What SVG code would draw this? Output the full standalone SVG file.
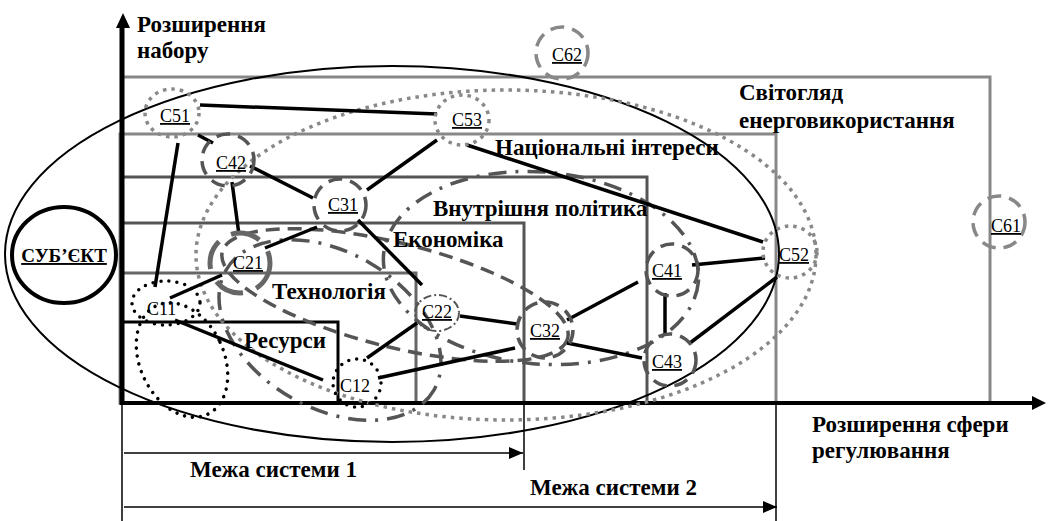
<svg xmlns="http://www.w3.org/2000/svg" width="1048" height="521" viewBox="0 0 1048 521">
<style>
.bold{font-family:"Liberation Serif","Times New Roman",serif;font-weight:bold;font-size:23px;fill:#000}
.lbl{font-family:"Liberation Serif","Times New Roman",serif;font-size:18px;fill:#000;text-decoration:underline}
.nu{text-decoration:none}
.conn{stroke:#000;stroke-width:3.5;fill:none}
.dotg{fill:none;stroke:#888;stroke-width:3.5;stroke-dasharray:3.5 5}
.dashg{fill:none;stroke:#888;stroke-width:3.5;stroke-dasharray:14 8}
.dashd{fill:none;stroke:#555;stroke-width:3.5;stroke-dasharray:14 8}
.dashdot{fill:none;stroke:#555;stroke-width:3.5;stroke-dasharray:18 9 3 9}
.dotb{fill:none;stroke:#000;stroke-width:3.5;stroke-dasharray:0 8;stroke-linecap:round}
</style>
<defs>
<marker id="ah" markerWidth="14" markerHeight="12" refX="14" refY="6" orient="auto" markerUnits="userSpaceOnUse">
<path d="M0,0 L14,6 L0,12 z" fill="#000"/>
</marker>
</defs>
<rect width="1048" height="521" fill="#fff"/>
<g id="areas">
<rect x="122" y="77" width="868" height="326" fill="none" stroke="#888" stroke-width="3"/>
<rect x="120" y="134" width="656" height="269" fill="none" stroke="#888" stroke-width="3"/>
<rect x="122" y="177" width="525" height="226" fill="none" stroke="#555" stroke-width="3"/>
<rect x="122" y="223" width="402" height="180" fill="none" stroke="#555" stroke-width="3"/>
<rect x="122" y="273" width="294" height="130" fill="none" stroke="#666" stroke-width="3"/>
<rect x="122" y="322" width="216" height="81" fill="none" stroke="#000" stroke-width="3"/>
</g>
<g id="axes">
<line x1="122" y1="405" x2="122" y2="26" stroke="#000" stroke-width="5"/>
<path d="M116,28 L123,13 L130,28 z" fill="#000"/>
<line x1="120" y1="403" x2="1034" y2="403" stroke="#000" stroke-width="4"/>
<path d="M1032,396 L1046,403 L1032,410 z" fill="#000"/>
</g>
<g id="boundaries">
<line x1="122" y1="403" x2="122" y2="521" stroke="#000" stroke-width="1.5"/>
<line x1="524" y1="403" x2="524" y2="470" stroke="#000" stroke-width="1.5"/>
<line x1="776" y1="403" x2="776" y2="521" stroke="#000" stroke-width="1.5"/>
<line x1="124" y1="453" x2="523" y2="453" stroke="#000" stroke-width="1.5" marker-end="url(#ah)"/>
<line x1="124" y1="507" x2="777" y2="507" stroke="#000" stroke-width="1.5" marker-end="url(#ah)"/>
</g>
<g id="subject">
<ellipse cx="64" cy="255" rx="52" ry="48" fill="none" stroke="#000" stroke-width="4"/>
<text x="64" y="262" text-anchor="middle" style="font-family:'Liberation Serif',serif;font-weight:bold;font-size:19px;text-decoration:underline">СУБ’ЄКТ</text>
</g>
<g id="system-ellipse">
<ellipse cx="392" cy="254" rx="387" ry="188" fill="none" stroke="#000" stroke-width="2"/>
</g>
<g id="group-ellipses">
<ellipse class="dotg" cx="506" cy="255" rx="310" ry="165"/>
<ellipse class="dashd" cx="395" cy="295" rx="178" ry="52" transform="rotate(14 395 295)"/>
<ellipse class="dashdot" cx="541" cy="268" rx="158" ry="96" transform="rotate(5 541 268)"/>
<ellipse class="dashdot" cx="330" cy="330" rx="120" ry="78" transform="rotate(30 330 330)"/>
<ellipse class="dotb" cx="166" cy="303" rx="34" ry="22"/>
<ellipse class="dotb" cx="182" cy="360" rx="42" ry="60" transform="rotate(-25 182 360)"/>
</g>
<g id="connectors">
<line class="conn" x1="200" y1="105" x2="437" y2="114"/>
<line class="conn" x1="178" y1="143" x2="155" y2="287"/>
<line class="conn" x1="198" y1="135" x2="213" y2="143"/>
<line class="conn" x1="250" y1="166" x2="313" y2="198"/>
<line class="conn" x1="232" y1="182" x2="239" y2="235"/>
<line class="conn" x1="367" y1="190" x2="437" y2="140"/>
<line class="conn" x1="467" y1="145" x2="763" y2="242"/>
<line class="conn" x1="317" y1="227" x2="265" y2="248"/>
<line class="conn" x1="358" y1="220" x2="422" y2="285"/>
<line class="conn" x1="222" y1="275" x2="170" y2="298"/>
<line class="conn" x1="175" y1="320" x2="323" y2="380"/>
<line class="conn" x1="367" y1="358" x2="417" y2="323"/>
<line class="conn" x1="378" y1="378" x2="515" y2="348"/>
<line class="conn" x1="460" y1="316" x2="517" y2="324"/>
<line class="conn" x1="567" y1="320" x2="638" y2="282"/>
<line class="conn" x1="567" y1="343" x2="642" y2="358"/>
<line class="conn" x1="692" y1="265" x2="765" y2="258"/>
<line class="conn" x1="665" y1="293" x2="665" y2="335"/>
<line class="conn" x1="690" y1="343" x2="777" y2="277"/>
</g>
<g id="C51"><ellipse class="dotg" cx="172" cy="113" rx="27" ry="24"/><text class="lbl" x="160" y="122">C51</text></g>
<g id="C53"><ellipse class="dotg" cx="462" cy="120" rx="27" ry="25"/><text class="lbl" x="452" y="126">C53</text></g>
<g id="C62"><circle class="dashg" cx="562" cy="53" r="26"/><text class="lbl" x="552" y="61">C62</text></g>
<g id="C61"><circle class="dashg" cx="999" cy="222" r="26"/><text class="lbl" x="991" y="232">C61</text></g>
<g id="C52"><ellipse class="dotg" cx="790" cy="252" rx="27" ry="26"/><text class="lbl" x="779" y="261">C52</text></g>
<g id="C42"><circle class="dashd" cx="228" cy="160" r="26"/><text class="lbl" x="216" y="169">C42</text></g>
<g id="C31"><circle class="dashd" cx="340" cy="205" r="26"/><text class="lbl" x="328" y="211">C31</text></g>
<g id="C21"><circle cx="240" cy="263" r="30" fill="none" stroke="#666" stroke-width="5" stroke-dasharray="30 14"/><text class="lbl" x="233" y="269">C21</text></g>
<g id="C11"><text class="lbl nu" x="147" y="315">C11</text></g>
<g id="C12"><circle class="dotb" cx="357" cy="383" r="24"/><text class="lbl nu" x="340" y="392">C12</text></g>
<g id="C22"><ellipse cx="437" cy="313" rx="22" ry="18" fill="none" stroke="#555" stroke-width="2" stroke-dasharray="8 3 2 3"/><text class="lbl" x="422" y="318">C22</text></g>
<g id="C32"><circle class="dashd" cx="545" cy="330" r="28"/><text class="lbl" x="530" y="337">C32</text></g>
<g id="C41"><circle class="dashd" cx="672" cy="270" r="26"/><text class="lbl" x="652" y="277">C41</text></g>
<g id="C43"><circle class="dashd" cx="670" cy="360" r="26"/><text class="lbl" x="652" y="368">C43</text></g>
<g id="labels">
<text class="bold" x="137" y="32">Розширення</text>
<text class="bold" x="137" y="58">набору</text>
<text class="bold" x="739" y="100">Світогляд</text>
<text class="bold" x="739" y="128">енерговикористання</text>
<text class="bold" x="495" y="155">Національні інтереси</text>
<text class="bold" x="433" y="216">Внутрішня політика</text>
<text class="bold" x="393" y="247">Економіка</text>
<text class="bold" x="272" y="299">Технологія</text>
<text class="bold" x="244" y="348">Ресурси</text>
<text class="bold" x="190" y="477">Межа системи 1</text>
<text class="bold" x="530" y="495">Межа системи 2</text>
<text class="bold" x="812" y="432">Розширення сфери</text>
<text class="bold" x="812" y="458">регулювання</text>
</g>
</svg>
